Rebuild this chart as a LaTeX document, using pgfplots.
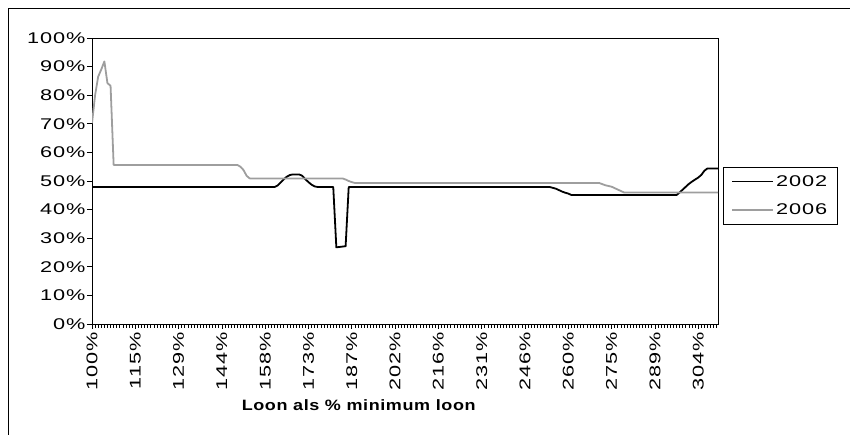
\documentclass[border=0pt]{standalone}
\usepackage{fontspec}
\setmainfont{Liberation Sans}[FakeStretch=1.4, LetterSpace=6]
\newfontfamily\labelfont{Liberation Sans}[FakeStretch=1.2, LetterSpace=4]
\usepackage{pgfplots}
\pgfplotsset{compat=1.18}
\definecolor{line06}{RGB}{158,158,158}

\begin{document}
\begin{tikzpicture}[x=1pt,y=1pt]
\useasboundingbox (0,0) rectangle (850,435);
% outer chart border (left and top visible)
\draw[line width=0.8pt] (8,0) -- (8,427) -- (850,427);
\begin{axis}[
    at={(92pt,111pt)}, anchor=south west,
    scale only axis, width=626pt, height=286pt,
    xmin=0, xmax=202.4, ymin=0, ymax=100,
    axis line style={line width=0.9pt},
    tick align=outside, tick pos=left,
    major tick length=5pt, minor tick length=4pt,
    tick style={black, line width=0.7pt},
    xtick={0,14,...,196},
    xticklabels={100\%,115\%,129\%,144\%,158\%,173\%,187\%,202\%,216\%,231\%,246\%,260\%,275\%,289\%,304\%},
    minor xtick={0,1,...,202},
    ytick={0,10,...,100},
    yticklabels={0\%,10\%,20\%,30\%,40\%,50\%,60\%,70\%,80\%,90\%,100\%},
    tick label style={font=\fontsize{15.5}{18}\selectfont},
    yticklabel style={xshift=2pt},
    xticklabel style={rotate=90, anchor=east},
    xlabel={\labelfont\bfseries Loon als \% minimum loon},
    xlabel style={font=\fontsize{15}{18}\selectfont, at={(axis description cs:0.426,-0.283)}, anchor=center},
    legend style={at={(1.008,0.449)}, anchor=west, draw=black, line width=0.8pt,
        font=\fontsize{15.5}{18}\selectfont, row sep=12pt, inner xsep=8pt, inner ysep=6pt},
    legend cell align=left,
    legend image code/.code={\draw[#1] (0pt,0pt) -- (41pt,0pt);},
]
% 2002
\addplot[black, line width=1.8pt, line join=round] coordinates {
    (0,47.9) (59,47.9) (60,48.4) (61,49.5) (62,50.6) (63,51.5) (64,52.1) (65,52.3)
    (67,52.3) (68,51.8) (69,50.6) (70,49.6) (71,48.7) (72,48.1) (73,47.9) (78,47.9)
    (79,26.8) (82,27.2) (83,47.9) (148,47.9) (150,47.3) (152,46.3) (153,45.9)
    (154,45.6) (155,45.1) (189,45.1) (190,46.0) (191,47.0) (193,49.0) (194,49.8)
    (196,51.2) (197,52.1) (198,53.6) (199,54.4) (202.4,54.4)
};
\addlegendentry{2002}
% 2006
\addplot[line06, line width=1.8pt, line join=round] coordinates {
    (0,70.2) (1,80) (2,86.5) (3,89) (4,91.8) (5,84.2) (6,83.3) (7,55.6) (47,55.6)
    (48,55.0) (49,53.8) (50,51.8) (51,50.9) (81,50.9) (82,50.5) (83,50.0) (84,49.6)
    (85,49.3) (164,49.3) (166,48.5) (168,48.0) (170,47.0) (172,46.0) (202.4,46.0)
};
\addlegendentry{2006}
\end{axis}
\end{tikzpicture}
\end{document}
